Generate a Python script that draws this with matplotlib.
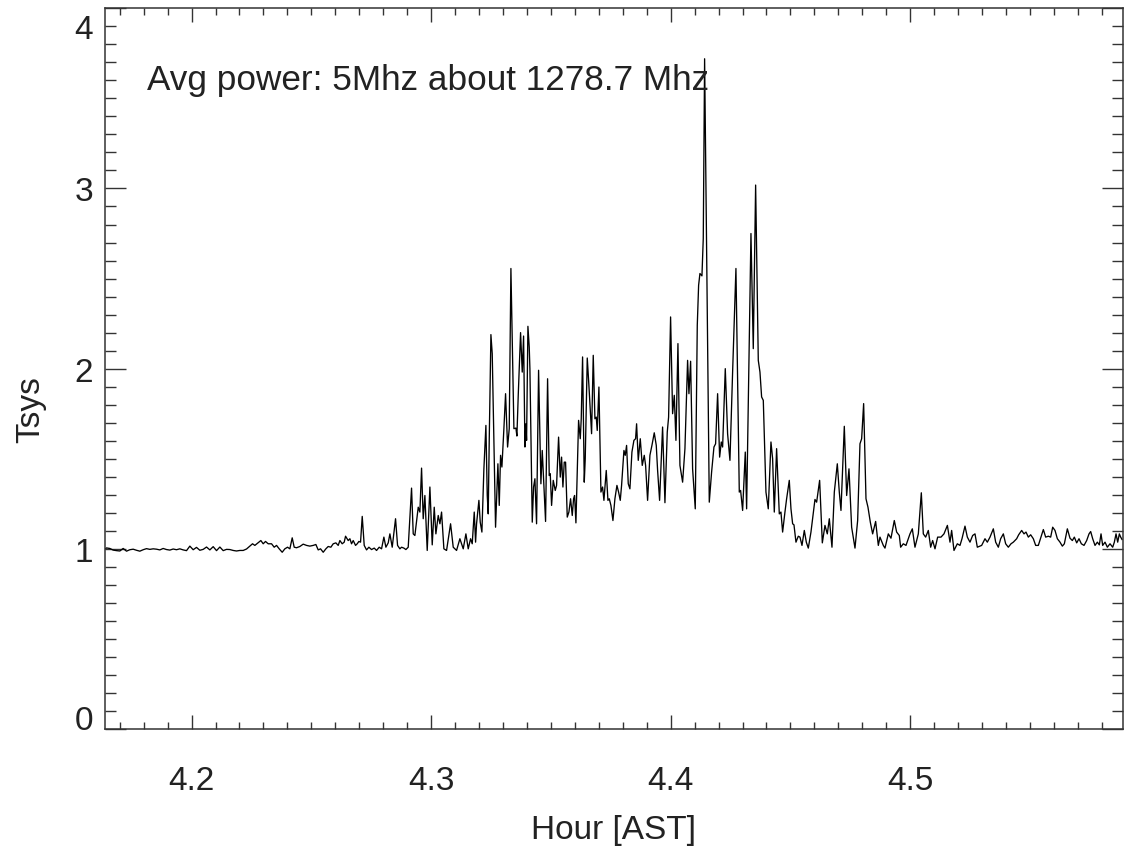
import matplotlib
matplotlib.use('Agg')
import matplotlib.pyplot as plt
from matplotlib.ticker import MultipleLocator
from matplotlib.transforms import ScaledTranslation

plt.rcParams['font.family'] = ['Liberation Sans', 'DejaVu Sans']

# time stamps [hour AST] and system temperature (relative)
hours = [
    4.16400, 4.16449, 4.16589, 4.16728, 4.16867, 4.17006, 4.17145, 4.17285, 4.17424, 4.17563,
    4.17702, 4.17841, 4.17980, 4.18120, 4.18259, 4.18398, 4.18537, 4.18676, 4.18815, 4.18955,
    4.19094, 4.19233, 4.19372, 4.19511, 4.19651, 4.19790, 4.19929, 4.20068, 4.20207, 4.20346,
    4.20486, 4.20625, 4.20764, 4.20903, 4.21042, 4.21182, 4.21321, 4.21460, 4.21599, 4.21738,
    4.21877, 4.22017, 4.22156, 4.22295,
    4.22434, 4.22545, 4.22643, 4.22754, 4.22893, 4.22991, 4.23088, 4.23200, 4.23339, 4.23450,
    4.23548, 4.23659, 4.23784, 4.23895, 4.24007, 4.24104, 4.24202, 4.24285, 4.24383, 4.24522,
    4.24661, 4.24800, 4.24939, 4.25079, 4.25190, 4.25287, 4.25385, 4.25496, 4.25607, 4.25705,
    4.25816, 4.25914, 4.26025, 4.26122, 4.26192, 4.26289, 4.26373, 4.26429, 4.26540, 4.26610,
    4.26679, 4.26749, 4.26846, 4.26916, 4.26985, 4.27055, 4.27125, 4.27208, 4.27305, 4.27403,
    4.27514, 4.27626, 4.27723, 4.27834, 4.27932, 4.28029, 4.28113, 4.28210, 4.28280, 4.28377,
    4.28516, 4.28600, 4.28697, 4.28767, 4.28864, 4.28948, 4.29045,
    4.29184, 4.29254, 4.29323, 4.29463, 4.29532, 4.29602, 4.29671, 4.29741, 4.29838, 4.29950,
    4.30047, 4.30131, 4.30200, 4.30298, 4.30368, 4.30437, 4.30534, 4.30646, 4.30813, 4.30924,
    4.31063, 4.31202, 4.31342, 4.31453, 4.31550, 4.31648, 4.31717, 4.31801, 4.31857, 4.31898,
    4.31996, 4.32051, 4.32121, 4.32204, 4.32288, 4.32344, 4.32385, 4.32427, 4.32497, 4.32552,
    4.32691, 4.32789, 4.32845, 4.32900, 4.32956, 4.33039, 4.33109, 4.33193, 4.33262, 4.33332,
    4.33457, 4.33541, 4.33582, 4.33638, 4.33735, 4.33805, 4.33861, 4.33917, 4.33958, 4.33986,
    4.34042, 4.34097, 4.34125, 4.34223, 4.34278, 4.34334, 4.34403, 4.34487,
    4.34584, 4.34640, 4.34710, 4.34779, 4.34863, 4.34932, 4.34974, 4.35030, 4.35099, 4.35183,
    4.35238, 4.35322, 4.35392, 4.35447, 4.35503, 4.35559, 4.35614, 4.35684, 4.35753, 4.35823,
    4.35893, 4.35948, 4.35990, 4.36046, 4.36157, 4.36227, 4.36268, 4.36324, 4.36394, 4.36435,
    4.36519, 4.36588, 4.36700, 4.36769, 4.36839, 4.36895, 4.36936, 4.37006, 4.37090, 4.37159,
    4.37215, 4.37312, 4.37382, 4.37438, 4.37507, 4.37591, 4.37674, 4.37758, 4.37827, 4.37897,
    4.37952, 4.38050, 4.38105, 4.38161, 4.38231, 4.38300, 4.38384, 4.38467, 4.38537, 4.38579,
    4.38648, 4.38732, 4.38815, 4.38899, 4.38955, 4.39038, 4.39135, 4.39219, 4.39316, 4.39400,
    4.39456, 4.39539, 4.39664, 4.39762, 4.39859, 4.39915, 4.39998, 4.40082, 4.40152, 4.40221,
    4.40305,
    4.40388, 4.40500, 4.40597, 4.40708, 4.40764, 4.40834, 4.40917, 4.41028, 4.41112, 4.41168,
    4.41223, 4.41307, 4.41362, 4.41418, 4.41613, 4.41710, 4.41808, 4.41877, 4.41961, 4.42045,
    4.42114, 4.42170, 4.42281, 4.42378, 4.42476, 4.42587, 4.42726, 4.42866, 4.42921, 4.43005,
    4.43116, 4.43172, 4.43353, 4.43450, 4.43548, 4.43659, 4.43729, 4.43798, 4.43868, 4.43979,
    4.44076, 4.44188, 4.44257, 4.44327, 4.44424, 4.44536, 4.44605, 4.44675, 4.44772, 4.44842,
    4.44953,
    4.45023, 4.45093, 4.45149, 4.45232, 4.45329, 4.45399, 4.45483, 4.45580, 4.45664, 4.45747,
    4.45858, 4.45928, 4.46025, 4.46095, 4.46220, 4.46332, 4.46443, 4.46540, 4.46624, 4.46735,
    4.46833, 4.46958, 4.47041, 4.47111, 4.47250, 4.47348, 4.47445, 4.47556, 4.47696, 4.47807,
    4.47904, 4.47974, 4.48057, 4.48155, 4.48238, 4.48336, 4.48433, 4.48558, 4.48670, 4.48739,
    4.48878, 4.48948, 4.49087, 4.49198, 4.49337, 4.49435, 4.49546, 4.49602, 4.49713, 4.49825,
    4.49992, 4.50089, 4.50200, 4.50340, 4.50465, 4.50548, 4.50646, 4.50757, 4.50855, 4.50938,
    4.51036, 4.51147, 4.51286, 4.51411, 4.51553, 4.51662, 4.51731, 4.51829, 4.51968, 4.52079,
    4.52163, 4.52288, 4.52386, 4.52497, 4.52608, 4.52706, 4.52803, 4.52984, 4.53123, 4.53221,
    4.53332, 4.53471, 4.53569, 4.53680, 4.53777, 4.53889, 4.53986, 4.54097, 4.54209, 4.54306,
    4.54445, 4.54529, 4.54654, 4.54752, 4.54835, 4.54933, 4.55030, 4.55141, 4.55239, 4.55350,
    4.55461, 4.55559, 4.55656, 4.55768, 4.55865, 4.55949, 4.56046, 4.56144, 4.56255, 4.56352,
    4.56436, 4.56561, 4.56672, 4.56770, 4.56853, 4.56951, 4.57048, 4.57146, 4.57257, 4.57368,
    4.57466, 4.57535, 4.57619, 4.57716, 4.57814, 4.57897, 4.57967, 4.58036, 4.58134, 4.58231,
    4.58342, 4.58454, 4.58523, 4.58593, 4.58663, 4.58732, 4.58788, 4.58844,
]

tsys = [
    1.000, 1.005, 1.002, 0.993, 0.990, 0.988, 1.002, 0.987, 0.995, 0.998,
    0.992, 0.987, 0.995, 1.001, 0.997, 1.000, 0.998, 0.994, 1.002, 0.996,
    0.993, 0.999, 0.995, 1.000, 0.994, 0.990, 1.015, 0.995, 1.008, 0.992,
    0.997, 1.010, 0.994, 1.012, 0.990, 1.010, 0.990, 0.997, 0.996, 0.991,
    0.988, 0.991, 0.991, 0.999,
    1.015, 1.028, 1.019, 1.031, 1.046, 1.028, 1.041, 1.028, 1.028, 1.009,
    1.019, 1.000, 0.981, 1.000, 1.009, 1.000, 1.061, 1.009, 1.006, 1.013,
    1.026, 1.019, 1.015, 1.019, 1.024, 0.994, 1.000, 0.981, 1.000, 1.013,
    1.009, 1.028, 1.033, 1.019, 1.046, 1.028, 1.037, 1.070, 1.046, 1.056,
    1.028, 1.046, 1.019, 1.028, 1.041, 1.037, 1.180, 1.019, 0.994, 1.009,
    0.996, 1.004, 0.991, 1.009, 1.000, 1.065, 1.009, 1.033, 1.083, 1.009,
    1.167, 1.019, 1.000, 1.009, 1.004, 0.996, 1.009,
    1.337, 1.083, 1.074, 1.231, 1.204, 1.448, 1.167, 1.296, 0.991, 1.343,
    1.022, 1.231, 1.083, 1.185, 1.139, 1.204, 1.000, 0.991, 1.139, 1.009,
    0.991, 1.056, 1.000, 1.083, 1.000, 1.056, 1.028, 1.204, 1.037, 1.139,
    1.269, 1.148, 1.093, 1.444, 1.685, 1.296, 1.194, 1.602, 2.189, 2.083,
    1.120, 1.472, 1.241, 1.519, 1.454, 1.667, 1.861, 1.565, 1.667, 2.556,
    1.667, 1.670, 1.626, 1.852, 2.200, 1.981, 2.181, 1.565, 1.694, 1.602,
    2.235, 2.120, 2.000, 1.148, 1.343, 1.389, 1.139, 1.991,
    1.361, 1.546, 1.352, 1.152, 1.944, 1.407, 1.417, 1.241, 1.380, 1.324,
    1.352, 1.620, 1.398, 1.509, 1.343, 1.481, 1.481, 1.176, 1.204, 1.278,
    1.185, 1.278, 1.296, 1.144, 1.713, 1.611, 1.722, 2.065, 1.370, 1.500,
    2.059, 1.907, 1.639, 2.074, 1.722, 1.731, 1.657, 1.898, 1.315, 1.343,
    1.269, 1.435, 1.269, 1.278, 1.241, 1.157, 1.278, 1.352, 1.315, 1.269,
    1.352, 1.546, 1.519, 1.574, 1.361, 1.333, 1.537, 1.602, 1.611, 1.694,
    1.491, 1.611, 1.463, 1.519, 1.463, 1.269, 1.519, 1.574, 1.644, 1.574,
    1.435, 1.269, 1.676, 1.256, 1.648, 1.731, 2.287, 1.750, 1.852, 1.602,
    2.139,
    1.463, 1.370, 1.556, 2.046, 1.861, 2.041, 1.444, 1.222, 2.241, 2.463,
    2.528, 2.515, 2.722, 3.720, 1.259, 1.426, 1.565, 1.583, 1.861, 1.509,
    1.593, 1.565, 2.000, 1.639, 1.491, 1.981, 2.556, 1.315, 1.324, 1.213,
    1.537, 1.222, 2.750, 2.111, 3.019, 2.046, 1.981, 1.843, 1.824, 1.315,
    1.222, 1.593, 1.500, 1.204, 1.556, 1.194, 1.204, 1.093, 1.204, 1.278,
    1.380,
    1.222, 1.139, 1.133, 1.037, 1.070, 1.065, 1.019, 1.102, 1.037, 1.004,
    1.093, 1.167, 1.274, 1.259, 1.380, 1.033, 1.130, 1.083, 1.167, 1.009,
    1.315, 1.472, 1.315, 1.213, 1.680, 1.296, 1.444, 1.120, 1.004, 1.157,
    1.583, 1.611, 1.806, 1.278, 1.231, 1.148, 1.083, 1.152, 1.019, 1.065,
    1.019, 1.004, 1.083, 1.059, 1.157, 1.093, 1.074, 1.009, 1.028, 1.019,
    1.083, 1.111, 1.009, 1.083, 1.311, 1.083, 1.065, 1.102, 1.009, 1.046,
    1.000, 1.065, 1.065, 1.083, 1.130, 1.037, 1.102, 0.991, 1.028, 1.019,
    1.056, 1.126, 1.065, 1.037, 1.074, 1.083, 1.009, 1.019, 1.056, 1.037,
    1.065, 1.111, 1.037, 1.009, 1.056, 1.083, 1.028, 1.009, 1.028, 1.037,
    1.056, 1.078, 1.102, 1.083, 1.093, 1.065, 1.078, 1.056, 1.019, 1.019,
    1.065, 1.107, 1.065, 1.070, 1.065, 1.120, 1.102, 1.056, 1.037, 1.015,
    1.028, 1.111, 1.059, 1.046, 1.065, 1.033, 1.056, 1.028, 1.019, 1.046,
    1.083, 1.096, 1.056, 1.019, 1.037, 1.022, 1.083, 1.019, 1.037, 1.009,
    1.028, 1.009, 1.037, 1.083, 1.037, 1.083, 1.065, 1.052,
]

title_text = 'Avg power: 5Mhz about 1278.7 Mhz'

fig = plt.figure(figsize=(11.3, 8.54), dpi=100)
ax = fig.add_axes([0.0932, 0.1452, 0.9003, 0.8439])

ax.plot(hours, tsys, color='black', lw=0.95)

ax.set_xlim(4.1640, 4.5887)
ax.set_ylim(0, 4)

ax.xaxis.set_major_locator(MultipleLocator(0.1))
ax.xaxis.set_minor_locator(MultipleLocator(0.01))
ax.yaxis.set_major_locator(MultipleLocator(1))
ax.yaxis.set_minor_locator(MultipleLocator(0.1))
ax.set_xticks([4.2, 4.3, 4.4, 4.5])
ax.set_xticklabels(['4.2', '4.3', '4.4', '4.5'])
ax.set_yticks([0, 1, 2, 3, 4])
ax.set_yticklabels(['0', '1', '2', '3', '4'])

ax.tick_params(axis='both', which='both', direction='in', top=True, right=True,
               color='#333333', width=1.0, labelcolor='#222222', labelsize=24)
ax.tick_params(axis='x', which='major', length=10, pad=26)
ax.tick_params(axis='x', which='minor', length=5)
ax.tick_params(axis='y', which='major', length=15, pad=9)
ax.tick_params(axis='y', which='minor', length=8)

for s in ax.spines.values():
    s.set_linewidth(1.1)
    s.set_color('#333333')

# end labels of the y axis sit inside the frame, like the original
yt = ax.yaxis.get_major_ticks()
lab0 = yt[0].label1
lab0.set_transform(lab0.get_transform() + ScaledTranslation(0, 0.115, fig.dpi_scale_trans))
lab4 = yt[-1].label1
lab4.set_transform(lab4.get_transform() + ScaledTranslation(0, -0.175, fig.dpi_scale_trans))

ax.text(0.0407, 0.888, title_text, transform=ax.transAxes, fontsize=25.3,
        color='#222222', ha='left', va='baseline')

ax.set_xlabel('Hour [AST]', fontsize=24, color='#222222')
ax.set_ylabel('Tsys', fontsize=24, color='#222222')
ax.xaxis.set_label_coords(0.5, -0.118)
ax.yaxis.set_label_coords(-0.058, 0.444)

fig.savefig('out.png', dpi=100)
